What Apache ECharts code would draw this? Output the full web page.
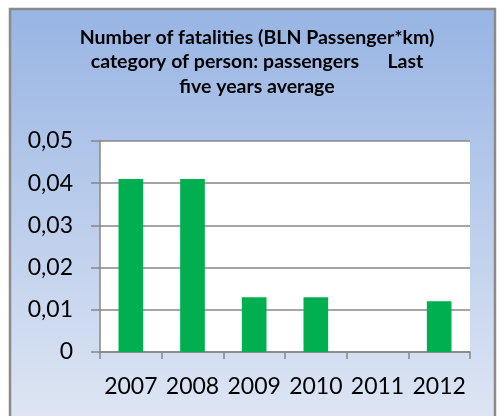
<!DOCTYPE html>
<html>
<head>
<meta charset="utf-8">
<script src="https://cdn.jsdelivr.net/npm/echarts@6/dist/echarts.min.js"></script>
<style>
  html, body { margin: 0; padding: 0; background: #fff; }
  #chart { width: 501px; height: 416px; }
</style>
</head>
<body>
<div id="chart"></div>
<script>
const years = ['2007', '2008', '2009', '2010', '2011', '2012']
const fatalities = [0.041, 0.041, 0.013, 0.013, 0, 0.012]
const titleLines = [
  'Number of fatalities (BLN Passenger*km)',
  'category of person: passengers      Last',
  'five years average'
]

const chart = echarts.init(document.getElementById('chart'))
const gridColor = '#878787'
const fontFam = 'Lato, "Open Sans", sans-serif'

chart.setOption({
  animation: false,
  graphic: [
    {
      type: 'rect',
      z: -10,
      shape: { x: 10, y: 9, width: 485, height: 420 },
      style: {
        fill: new echarts.graphic.LinearGradient(0, 0, 0, 1, [
          { offset: 0, color: '#97b4e3' },
          { offset: 1, color: '#e0e7f4' }
        ]),
        stroke: '#8a8a8a',
        lineWidth: 2.5
      }
    }
  ],
  title: {
    text: titleLines.join('\n'),
    left: 257,
    textAlign: 'center',
    top: 25,
    padding: 0,
    textStyle: {
      fontFamily: fontFam,
      fontSize: 19.5,
      fontWeight: 'bold',
      color: '#000',
      lineHeight: 24.5
    }
  },
  grid: {
    left: 100,
    right: 31,
    top: 141,
    bottom: 64,
    show: true,
    backgroundColor: '#ffffff',
    borderWidth: 0
  },
  xAxis: {
    type: 'category',
    data: years,
    axisLine: { lineStyle: { color: gridColor, width: 1.5 } },
    axisTick: { show: true, length: 7, lineStyle: { color: gridColor, width: 1.5 } },
    axisLabel: {
      interval: 0,
      color: '#000',
      fontFamily: fontFam,
      fontSize: 23,
      margin: 23
    }
  },
  yAxis: {
    type: 'value',
    min: 0,
    max: 0.05,
    interval: 0.01,
    axisLine: { show: true, lineStyle: { color: gridColor, width: 1.5 } },
    axisTick: { show: true, length: 9, lineStyle: { color: gridColor, width: 1.5 } },
    splitLine: { lineStyle: { color: gridColor, width: 1.5 } },
    axisLabel: {
      color: '#000',
      fontFamily: fontFam,
      fontSize: 23,
      margin: 27,
      formatter: (v) => (v === 0 ? '0' : v.toFixed(2).replace('.', ','))
    }
  },
  series: [
    {
      type: 'bar',
      data: fatalities,
      barWidth: '40%',
      itemStyle: { color: '#00b050' }
    }
  ]
})
</script>
</body>
</html>
